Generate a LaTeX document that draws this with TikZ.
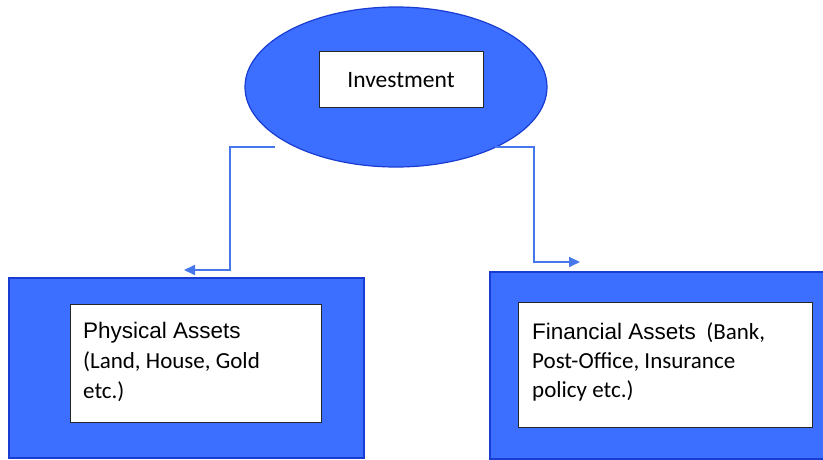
\documentclass[tikz,border=0pt]{standalone}
\usepackage{fontspec}
\setmainfont{Carlito}
\newfontfamily\headfont{Liberation Sans}
\usetikzlibrary{arrows.meta,shapes.geometric}
\definecolor{bluefill}{RGB}{60,110,255}
\definecolor{blueedge}{RGB}{25,60,210}
\definecolor{lineblue}{RGB}{70,120,235}
\begin{document}
\begin{tikzpicture}[x=1pt,y=-1pt,
  outerbox/.style={draw=blueedge,line width=1.5pt,fill=bluefill,rectangle,inner sep=0pt},
  innerbox/.style={draw=black!85,line width=1pt,fill=white,rectangle,inner sep=0pt},
  conn/.style={draw=lineblue,line width=1.8pt,-{Triangle[length=11pt,width=10pt]}},
  body/.style={anchor=base west,align=left,inner sep=0pt}
]
\useasboundingbox (0,0) rectangle (823,460);
% top ellipse
\node[ellipse,draw=blueedge,line width=1.2pt,fill=bluefill,minimum width=302pt,minimum height=160pt,inner sep=0pt] (inv) at (396,87) {};
\node[innerbox,minimum width=164pt,minimum height=56pt] (invbox) at (401,80) {\fontsize{23.5}{26}\selectfont Investment};
% left block
\node[outerbox,minimum width=355pt,minimum height=180pt] (phys) at (186.5,368) {};
\node[innerbox,minimum width=251pt,minimum height=118pt] (physbox) at (195.5,363) {};
\node[body,font=\fontsize{23}{30}\selectfont] (phystext) at (83,398) {{\headfont\fontsize{22.5}{30}\selectfont Physical Assets}\\(Land, House, Gold\\etc.)};
% right block
\node[outerbox,minimum width=340pt,minimum height=187pt] (fin) at (660,365.5) {};
\node[innerbox,minimum width=294pt,minimum height=125pt] (finbox) at (665,364.5) {};
\node[body,font=\fontsize{23}{29}\selectfont] (fintext) at (532,397) {{\headfont\fontsize{22.5}{29}\selectfont Financial Assets}\ \ (Bank,\\Post-Office, Insurance\\policy etc.)};
% connectors
\coordinate (ls) at (275,147);
\coordinate (le) at (184,270);
\coordinate (rs) at (495,147);
\coordinate (re) at (580,262);
\draw[conn] (ls) -| (230,270) -- (le);
\draw[conn] (rs) -| (534,262) -- (re);
\end{tikzpicture}
\end{document}
